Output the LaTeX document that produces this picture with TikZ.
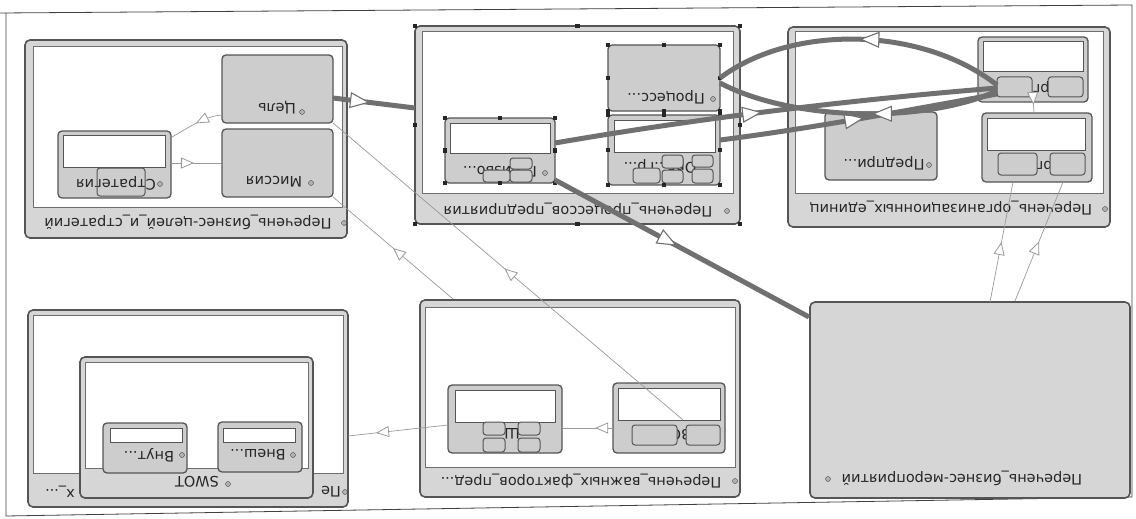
\documentclass[tikz,border=0pt]{standalone}
\usepackage{fontspec}
\setmainfont{DejaVu Sans}
\usetikzlibrary{arrows.meta,decorations.markings}
\definecolor{bord}{HTML}{555555}
\definecolor{cfill}{HTML}{D6D6D6}
\definecolor{sfill}{HTML}{CDCDCD}
\definecolor{lnk}{HTML}{707070}
\definecolor{thn}{HTML}{999999}
\newcommand\bx[6]{\node[#2, minimum width={(#5)-(#3)}, minimum height={(#6)-(#4)}] (#1) at ({((#3)+(#5))/2},{((#4)+(#6))/2}) {};}
\newcommand\handles[1]{\foreach \a in {north west,north,north east,east,south east,south,south west,west} \fill[black!85] (#1.\a) ++(-2.4pt,-2.4pt) rectangle ++(4.8pt,4.8pt);}
\tikzset{
 cont/.style={draw=bord, line width=1.6pt, fill=cfill, rounded corners=5pt, inner sep=0, outer sep=0},
 inbox/.style={draw=bord!85, line width=1pt, fill=white, inner sep=0, outer sep=0},
 sub/.style={draw=bord, line width=1.3pt, fill=sfill, rounded corners=4pt, inner sep=0, outer sep=0},
 slot/.style={draw=bord, line width=1pt, fill=white, inner sep=0, outer sep=0},
 mini/.style={draw=bord, line width=1pt, fill=sfill, rounded corners=3pt, inner sep=0, outer sep=0},
 ghost/.style={draw=bord, line width=1pt, rounded corners=3pt, inner sep=0, outer sep=0},
 lbl/.style={rotate=180, inner sep=0, font=\fontsize{14.5}{14.5}\selectfont, text=black!85},
 dotm/.style={circle, fill=gray!60, draw=gray!40!black, line width=0.3pt, minimum size=5pt, inner sep=0},
 tlink/.style={draw=lnk, line width=5pt, postaction={decorate, decoration={markings, mark=at position #1 with {\pgfsetlinewidth{1.1pt}\arrow{Triangle[fill=white, length=20pt, width=16pt]}}}}},
 tlink/.default=0.5,
 slink/.style={draw=thn, line width=0.7pt, postaction={decorate, decoration={markings, mark=at position #1 with {\pgfsetlinewidth{0.8pt}\arrow{Triangle[fill=white, length=13pt, width=11pt]}}}}},
 slink/.default=0.5
}
\begin{document}
\begin{tikzpicture}[x=1pt,y=-1pt]
\useasboundingbox (0,0) rectangle (1136,519);
\fill[white] (0,0) rectangle (1136,519);
\draw[black!75, line width=0.8pt] (0,13) -- (1132,5) -- (1132,497) -- (6,516) -- (6,13);

% ---------- container A
\bx{A}{cont}{25}{40}{347}{238}
\bx{Ai}{inbox}{33}{47}{342}{207}
\node[lbl] (tA) at (188,222) {Перечень\_бизнес-целей\_и\_стратегий};
\node[dotm] (dA) at (344,223) {};
\bx{cel}{sub}{222}{55}{333}{123}
\node[lbl] (tcel) at (277,108) {Цель};
\node[dotm] (dcel) at (302,112) {};
\bx{mis}{sub}{222}{129}{333}{197}
\node[lbl] (tmis) at (274,182) {Миссия};
\node[dotm] (dmis) at (311,183) {};
\bx{str}{sub}{58}{131}{171}{198}
\bx{strs}{slot}{63}{135}{165}{167}
\node[lbl] (tstr) at (116,183) {Стратегия};
\node[dotm] (dstr) at (160,184) {};
\bx{strg}{ghost}{97}{168}{145}{196}

% ---------- container B
\bx{B}{cont}{415}{26}{740}{224}
\bx{Bi}{inbox}{422}{32}{733}{193}
\node[lbl] (tB) at (578,210) {Перечень\_процессов\_предприятия};
\node[dotm] (dB) at (727,211) {};
\bx{pro}{sub}{608}{45}{720}{111}
\node[lbl] (tpro) at (666,97) {Процесс...};
\node[dotm] (dpro) at (713,99) {};
\bx{org}{sub}{608}{115}{720}{185}
\bx{orgs}{slot}{614}{120}{715}{152}
\node[lbl] (torg) at (660,166) {Орг...гр...};
\bx{om1}{mini}{633}{168}{660}{183}
\bx{om2}{mini}{662}{155}{683}{168}
\bx{om3}{mini}{662}{170}{683}{183}
\bx{om4}{mini}{692}{155}{713}{167}
\bx{om5}{mini}{692}{169}{713}{183}
\bx{gn}{sub}{445}{118}{555}{183}
\bx{gns}{slot}{450}{123}{550}{153}
\node[lbl] (tgn) at (500,170) {Г\_низво...};
\node[dotm] (dgn) at (545,173) {};
\bx{gm1}{mini}{510}{158}{532}{169}
\bx{gm2}{mini}{483}{170}{510}{182}
\bx{gm3}{mini}{510}{170}{532}{182}
\handles{B}
\handles{pro}
\handles{org}
\handles{gn}

% ---------- container C
\bx{C}{cont}{788}{27}{1110}{227}
\bx{Ci}{inbox}{795}{32}{1103}{193}
\node[lbl] (tC) at (951,208) {Перечень\_организационных\_единиц};
\node[dotm] (dC) at (1105,209) {};
\bx{pre}{sub}{825}{112}{937}{180}
\node[lbl] (tpre) at (884,163) {Предпри...};
\node[dotm] (dpre) at (929,165) {};
\bx{ct}{sub}{978}{37}{1088}{102}
\bx{cts}{slot}{983}{42}{1083}{72}
\node[lbl] (tct) at (1040,88) {Орг...};
\bx{ctm1}{mini}{997}{77}{1032}{97}
\bx{ctm2}{mini}{1048}{77}{1083}{97}
\bx{cb}{sub}{982}{113}{1092}{182}
\bx{cbs}{slot}{987}{118}{1085}{150}
\node[lbl] (tcb) at (1043,165) {Орг...};
\bx{cbm1}{mini}{998}{153}{1037}{175}
\bx{cbm2}{mini}{1050}{153}{1085}{175}

% ---------- container D
\bx{D}{cont}{810}{302}{1130}{498}
\node[lbl] (tD) at (962,478) {Перечень\_бизнес-мероприятий};
\node[dotm] (dD) at (828,479) {};

% ---------- container E
\bx{E}{cont}{28}{310}{348}{507}
\bx{Ei}{inbox}{33}{315}{343}{473}
\node[lbl] (tE1) at (331,492) {Пе};
\node[lbl] (tE2) at (60,492) {х\_...};
\node[dotm] (dE) at (345,492) {};
\bx{sw}{cont}{80}{357}{313}{498}
\bx{swi}{inbox}{85}{362}{308}{468}
\node[lbl] (tsw) at (197,482) {SWOT};
\node[dotm] (dsw) at (228,484) {};
\bx{vn}{sub}{103}{423}{187}{473}
\bx{vns}{slot}{110}{428}{182}{442}
\node[lbl] (tvn) at (149,455) {Внут...};
\node[dotm] (dvn) at (182,455) {};
\bx{ve}{sub}{218}{422}{302}{472}
\bx{ves}{slot}{223}{428}{295}{442}
\node[lbl] (tve) at (258,455) {Внеш...};
\node[dotm] (dve) at (293,455) {};

% ---------- container F
\bx{F}{cont}{420}{300}{740}{497}
\bx{Fi}{inbox}{425}{307}{735}{467}
\node[lbl] (tF) at (581,481) {Перечень\_важных\_факторов\_пред...};
\node[dotm] (dF) at (735,481) {};
\bx{fl}{sub}{448}{385}{562}{453}
\bx{fls}{slot}{455}{390}{555}{422}
\node[lbl] (tfl) at (512,434) {Ш};
\bx{flm1}{mini}{483}{422}{505}{435}
\bx{flm2}{mini}{483}{438}{505}{452}
\bx{flm3}{mini}{518}{422}{540}{435}
\bx{flm4}{mini}{518}{438}{540}{452}
\bx{fr}{sub}{613}{383}{725}{453}
\bx{frs}{slot}{618}{388}{720}{420}
\node[lbl] (tfr) at (681,435) {ВС};
\bx{frm1}{mini}{632}{425}{677}{445}
\bx{frm2}{mini}{686}{425}{720}{445}

% ---------- connector end points
\coordinate (p1) at (333,98);
\coordinate (p2) at (415,108);
\coordinate (p3) at (222,115);
\coordinate (p4) at (172,137);
\coordinate (p5) at (171,163);
\coordinate (p6) at (222,163);
\coordinate (p7) at (683,420);
\coordinate (p8) at (333,123);
\coordinate (p9) at (453,299);
\coordinate (p10) at (333,197);
\coordinate (p11) at (448,425);
\coordinate (p12) at (348,436);
\coordinate (p13) at (613,428);
\coordinate (p14) at (562,428);
\coordinate (p15) at (555,180);
\coordinate (p16) at (809,317);
\coordinate (p17) at (555,143);
\coordinate (p18) at (997,88);
\coordinate (p19) at (720,140);
\coordinate (p20) at (997,94);
\coordinate (p21) at (997,85);
\coordinate (p22) at (720,78);
\coordinate (p23) at (997,91);
\coordinate (p24) at (720,83);
\coordinate (p25) at (1033,97);
\coordinate (p26) at (1034,113);
\coordinate (p27) at (990,302);
\coordinate (p28) at (1013,182);
\coordinate (p29) at (1015,301);
\coordinate (p30) at (1063,182);

% ---------- connectors
\draw[slink=0.5] (p3) .. controls (205,116) and (188,128) .. (p4);
\draw[slink=0.45] (p5) -- (p6);
\draw[slink=0.51] (p7) -- (p8);
\draw[slink=0.5] (p9) -- (p10);
\draw[slink=0.72] (p11) -- (p12);
\draw[slink=0.35] (p13) -- (p14);
\draw[slink=0.5] (p25) -- (p26);
\draw[slink=0.5] (p27) -- (p28);
\draw[slink=0.5] (p29) -- (p30);
\draw[tlink=0.45] (p1) -- (p2);
\draw[tlink=0.48] (p15) -- (p16);
\draw[tlink=0.47] (p17) .. controls (700,118) and (850,100) .. (p18);
\draw[tlink=0.52] (p19) .. controls (800,130) and (900,112) .. (p20);
\draw[tlink=0.5] (p21) .. controls (920,25) and (790,25) .. (p22);
\draw[tlink=0.45] (p23) .. controls (920,125) and (790,120) .. (p24);
\end{tikzpicture}
\end{document}
